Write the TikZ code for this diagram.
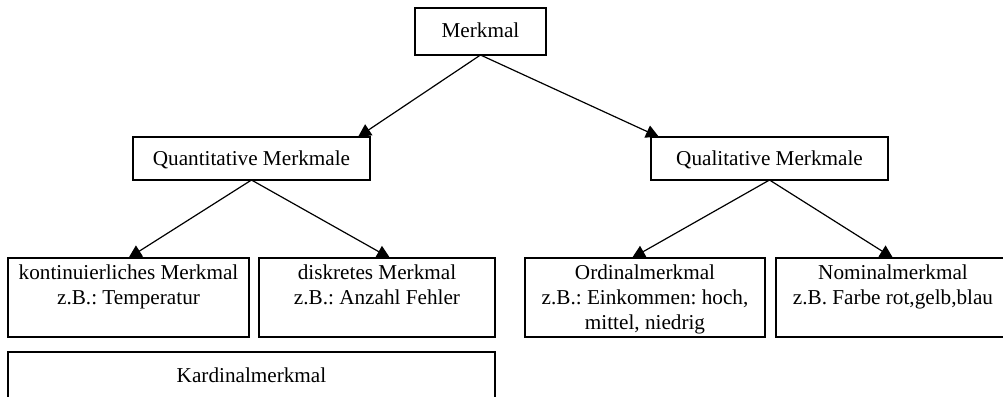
\documentclass[tikz,border=0pt]{standalone}
\usepackage{fontspec}
\setmainfont{Liberation Serif}
\usetikzlibrary{arrows.meta}
\frenchspacing
\newcommand{\bx}[4]{\parbox[c][#2pt][t]{#1pt}{\centering\fontsize{21.2}{25}\selectfont\frenchspacing\rule{0pt}{#3pt}#4\par}}
\begin{document}
\begin{tikzpicture}[x=1pt,y=-1pt,
  box/.style={draw, rectangle, inner sep=0pt, outer sep=0pt, anchor=north west, line width=1.3pt},
  arr/.style={line width=1.2pt, -{Triangle[length=13pt,width=13pt]}}]
\clip (0,0) rectangle (1003,396);
\fill[white] (0,0) rectangle (1003,396);
\node[box] (merk) at (415,8) {\bx{131}{47}{30}{Merkmal}};
\node[box] (quant) at (133,137) {\bx{237}{43}{28}{Quantitative Merkmale}};
\node[box] (qual) at (651,137) {\bx{237}{43}{28}{Qualitative Merkmale}};
\node[box] (kont) at (8,258) {\bx{241}{79}{21}{kontinuierliches Merkmal\\z.B.: Temperatur}};
\node[box] (disk) at (259,258) {\bx{236}{79}{21}{diskretes Merkmal\\z.B.: Anzahl Fehler}};
\node[box] (ord) at (525,258) {\bx{240}{79}{21}{Ordinalmerkmal\\z.B.: Einkommen: hoch,\\mittel, niedrig}};
\node[box] (nom) at (776,258) {\bx{234}{79}{21}{Nominalmerkmal\\z.B. Farbe rot,gelb,blau}};
\node[box] (kard) at (8,352) {\bx{487}{47}{30}{Kardinalmerkmal}};
\draw[arr] (merk.south) -- ([xshift=-12pt]quant.north east);
\draw[arr] (merk.south) -- ([xshift=8pt]qual.north west);
\draw[arr] (quant.south) -- (kont.north);
\draw[arr] (quant.south) -- ([xshift=13pt]disk.north);
\draw[arr] (qual.south) -- ([xshift=-13pt]ord.north);
\draw[arr] (qual.south) -- (nom.north);
\end{tikzpicture}
\end{document}
